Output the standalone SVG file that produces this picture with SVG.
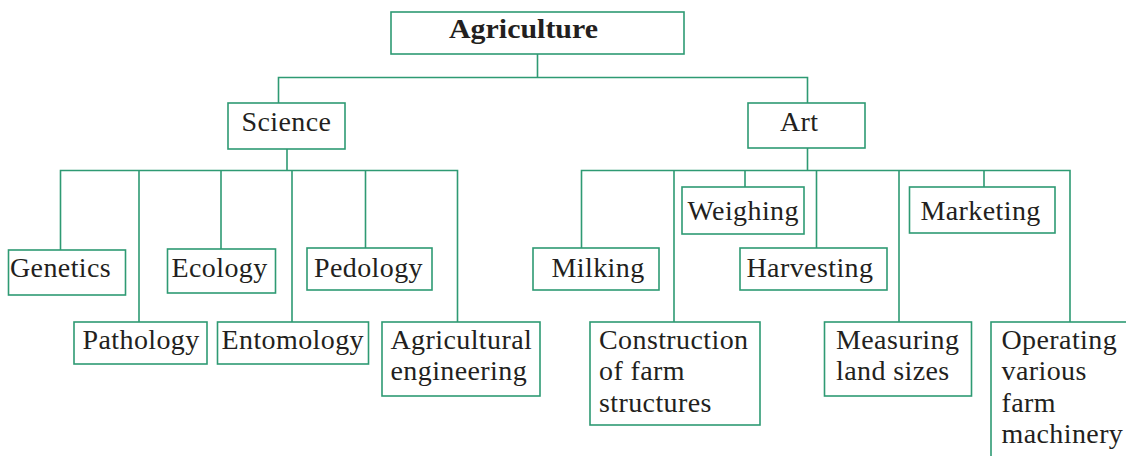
<svg xmlns="http://www.w3.org/2000/svg" width="1126" height="456" viewBox="0 0 1126 456">
<style>
.box{fill:#fff;stroke:#2e9a73;stroke-width:1.6}
.ln{fill:none;stroke:#2e9a73;stroke-width:1.6}
.t{font-family:'Liberation Serif','Times New Roman','DejaVu Serif',serif;font-size:28px;fill:#231f20;letter-spacing:0.4px}
.b{font-weight:bold;letter-spacing:0}
</style>
<rect width="1126" height="456" fill="#fff"/>
<g id="connectors">
<path class="ln" d="M537.5 54V77.5M278.5 103V77.5H807.5V103"/>
<path class="ln" d="M287 149V170.5M60.5 250V170.5H457.5V322M139 170.5V322M221 170.5V249M292 170.5V322M365.5 170.5V248"/>
<path class="ln" d="M807.5 148V170.5M581.5 248V170.5H1070V322M674 170.5V322M745 170.5V187M816.5 170.5V248M899 170.5V322M984 170.5V187"/>
</g>
<g id="agriculture"><rect class="box" x="391" y="12" width="293" height="42"/><text class="t b" font-family="Liberation Serif, serif" x="449" y="38" textLength="149" lengthAdjust="spacingAndGlyphs">Agriculture</text></g>
<g id="science"><rect class="box" x="228" y="103" width="117" height="46"/><text class="t" x="241.5" y="131">Science</text></g>
<g id="art"><rect class="box" x="748" y="103" width="117" height="45"/><text class="t" x="780" y="131">Art</text></g>
<g id="genetics"><rect class="box" x="8.5" y="250" width="117" height="45"/><text class="t" x="10" y="277">Genetics</text></g>
<g id="ecology"><rect class="box" x="167.5" y="249" width="108" height="44"/><text class="t" x="171.5" y="277">Ecology</text></g>
<g id="pedology"><rect class="box" x="307" y="248" width="125" height="42"/><text class="t" x="314" y="277">Pedology</text></g>
<g id="pathology"><rect class="box" x="74" y="322" width="133" height="42"/><text class="t" x="82.5" y="348.5">Pathology</text></g>
<g id="entomology"><rect class="box" x="217.5" y="322" width="151" height="42"/><text class="t" x="221.5" y="348.5">Entomology</text></g>
<g id="agricultural-engineering"><rect class="box" x="382" y="322" width="158" height="74"/><text class="t" x="390.5" y="348.5">Agricultural</text><text class="t" x="390.5" y="380">engineering</text></g>
<g id="milking"><rect class="box" x="533" y="248" width="126" height="42"/><text class="t" x="551.5" y="277">Milking</text></g>
<g id="weighing"><rect class="box" x="682" y="187" width="122" height="47"/><text class="t" x="687.5" y="219.5">Weighing</text></g>
<g id="harvesting"><rect class="box" x="740" y="248" width="147" height="42"/><text class="t" x="746.5" y="277">Harvesting</text></g>
<g id="marketing"><rect class="box" x="909.5" y="187" width="145.5" height="46"/><text class="t" x="920.5" y="219.5">Marketing</text></g>
<g id="construction"><rect class="box" x="590" y="322" width="170" height="103"/><text class="t" x="599" y="348.5">Construction</text><text class="t" x="599" y="380">of farm</text><text class="t" x="599" y="411.5">structures</text></g>
<g id="measuring"><rect class="box" x="824.5" y="322" width="147" height="74"/><text class="t" x="836" y="348.5">Measuring</text><text class="t" x="836" y="380">land sizes</text></g>
<g id="operating"><rect class="box" x="991" y="322" width="145" height="145"/><text class="t" x="1001.5" y="348.5">Operating</text><text class="t" x="1001.5" y="380">various</text><text class="t" x="1001.5" y="411.5">farm</text><text class="t" x="1001.5" y="443">machinery</text></g>
</svg>
